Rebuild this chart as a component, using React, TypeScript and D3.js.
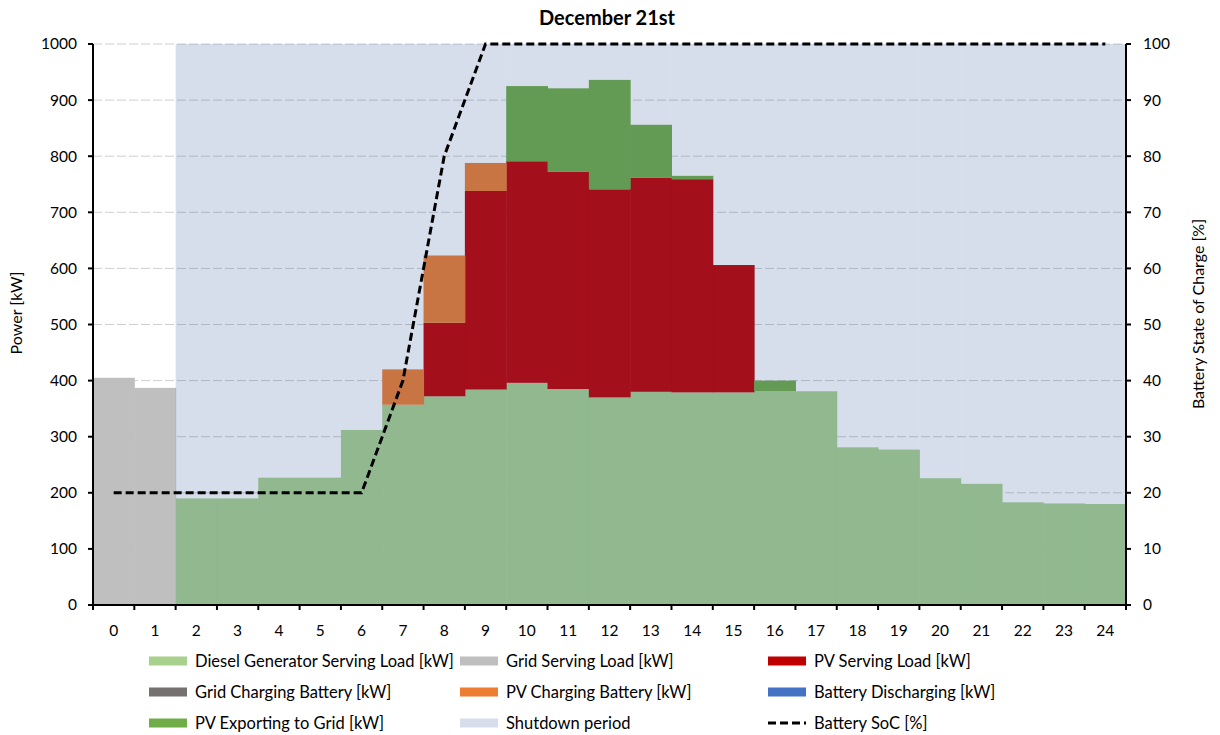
import * as d3 from "d3";

// hours of the day, 0..24
const hours = d3.range(0, 25).map(String);

// stacked series [kW]
const dieselLoad = [0, 0, 190, 190, 227, 227, 312, 357, 372, 384, 396, 385, 370, 380, 379, 379, 381, 381, 281, 277, 226, 216, 183, 181, 180];
const gridLoad = [405, 387, 0, 0, 0, 0, 0, 0, 0, 0, 0, 0, 0, 0, 0, 0, 0, 0, 0, 0, 0, 0, 0, 0, 0];
const pvLoad = [0, 0, 0, 0, 0, 0, 0, 0, 131, 354, 395, 387, 371, 382, 380, 227, 0, 0, 0, 0, 0, 0, 0, 0, 0];
const gridCharging = [0, 0, 0, 0, 0, 0, 0, 0, 0, 0, 0, 0, 0, 0, 0, 0, 0, 0, 0, 0, 0, 0, 0, 0, 0];
const pvCharging = [0, 0, 0, 0, 0, 0, 0, 63, 120, 50, 0, 0, 0, 0, 0, 0, 0, 0, 0, 0, 0, 0, 0, 0, 0];
const batteryDischarging = [0, 0, 0, 0, 0, 0, 0, 0, 0, 0, 0, 0, 0, 0, 0, 0, 0, 0, 0, 0, 0, 0, 0, 0, 0];
const pvExport = [0, 0, 0, 0, 0, 0, 0, 0, 0, 0, 134, 149, 195, 94, 6, 0, 19, 0, 0, 0, 0, 0, 0, 0, 0];
// shutdown band (drawn full height, semi-transparent)
const shutdown = [0, 0, 1000, 1000, 1000, 1000, 1000, 1000, 1000, 1000, 1000, 1000, 1000, 1000, 1000, 1000, 1000, 1000, 1000, 1000, 1000, 1000, 1000, 1000, 1000];
// battery state of charge [%]
const soc = [20, 20, 20, 20, 20, 20, 20, 40, 80, 100, 100, 100, 100, 100, 100, 100, 100, 100, 100, 100, 100, 100, 100, 100, 100];

const powerTicks = d3.range(0, 1001, 100);
const socTicks = d3.range(0, 101, 10);

const seriesNames = ["Diesel Generator Serving Load [kW]", "Grid Serving Load [kW]", "PV Serving Load [kW]", "Grid Charging Battery [kW]", "PV Charging Battery [kW]", "Battery Discharging [kW]", "PV Exporting to Grid [kW]"];
const seriesColors = ["#A9D18E", "#BFBFBF", "#C00000", "#767171", "#ED7D31", "#4472C4", "#70AD47"];
const seriesData = [dieselLoad, gridLoad, pvLoad, gridCharging, pvCharging, batteryDischarging, pvExport];

const shadeColor = "rgb(40,80,150)";
const shadeOpacity = 0.19;

const font = "Lato, 'Open Sans', sans-serif";

export default function App() {
  const width = 1220;
  const height = 735;
  const left = 93;
  const right = 1126;
  const top = 44;
  const bottom = 605;

  const x = d3.scaleBand<string>().domain(hours).range([left, right]).padding(0);
  const y = d3.scaleLinear().domain([0, 1000]).range([bottom, top]);
  const y2 = d3.scaleLinear().domain([0, 100]).range([bottom, top]);

  const table = hours.map((h, i) => {
    const row: any = { hour: h };
    seriesNames.forEach((n, k) => (row[n] = seriesData[k][i]));
    return row;
  });
  const stacked = d3.stack().keys(seriesNames)(table);

  const socLine = d3.line<number>()
    .x((d, i) => (x(hours[i]) as number) + x.bandwidth() / 2)
    .y((d) => y2(d));

  const bw = x.bandwidth();
  const boundaries = d3.range(0, hours.length + 1).map((i) => left + i * bw);

  const legend = [
    { name: seriesNames[0], color: seriesColors[0] },
    { name: seriesNames[1], color: seriesColors[1] },
    { name: seriesNames[2], color: seriesColors[2] },
    { name: seriesNames[3], color: seriesColors[3] },
    { name: seriesNames[4], color: seriesColors[4] },
    { name: seriesNames[5], color: seriesColors[5] },
    { name: seriesNames[6], color: seriesColors[6] },
    { name: "Shutdown period", color: "shade" },
    { name: "Battery SoC [%]", color: "line" },
  ];
  const legendX = [149, 460, 768];
  const legendY = [661, 692, 723];

  return (
    <svg width={width} height={height} style={{ position: "absolute", left: 0, top: 0, background: "white" }} fontFamily={font}>
      <text x={607} y={25} textAnchor="middle" fontSize={20} fontWeight="bold">December 21st</text>

      {/* gridlines */}
      {powerTicks.filter((t) => t > 0).map((t) => (
        <line key={t} x1={left} x2={right} y1={y(t)} y2={y(t)} stroke="#cfcfcf" strokeWidth={1} strokeDasharray="9,3" />
      ))}

      {/* stacked bars */}
      {stacked.map((s, k) => (
        <g key={s.key} fill={seriesColors[k]}>
          {s.map((d, i) => d[1] - d[0] > 0 ? (
            <rect key={i} x={x(hours[i])} width={bw + 0.5} y={y(d[1])} height={y(d[0]) - y(d[1])} />
          ) : null)}
        </g>
      ))}

      {/* shutdown period */}
      <g fill={shadeColor} fillOpacity={shadeOpacity}>
        {shutdown.map((v, i) => v > 0 ? (
          <rect key={i} x={x(hours[i])} width={bw + (i < hours.length - 1 ? 0.01 : 0)} y={y(v)} height={y(0) - y(v)} />
        ) : null)}
      </g>

      {/* SoC line */}
      <path d={socLine(soc) as string} fill="none" stroke="black" strokeWidth={3} strokeDasharray="8,4" />

      {/* axes */}
      <line x1={left} x2={left} y1={top} y2={bottom} stroke="black" strokeWidth={2} />
      <line x1={right} x2={right} y1={top} y2={bottom} stroke="black" strokeWidth={2} />
      <line x1={left} x2={right} y1={bottom} y2={bottom} stroke="black" strokeWidth={2} />
      {powerTicks.map((t) => (
        <g key={t}>
          <line x1={left - 5} x2={left} y1={y(t)} y2={y(t)} stroke="black" strokeWidth={2} />
          <text x={left - 16} y={y(t)} dy="0.35em" textAnchor="end" fontSize={15.5}>{t}</text>
        </g>
      ))}
      {socTicks.map((t) => (
        <g key={t}>
          <line x1={right} x2={right + 5} y1={y2(t)} y2={y2(t)} stroke="black" strokeWidth={2} />
          <text x={right + 17} y={y2(t)} dy="0.35em" textAnchor="start" fontSize={15.5}>{t}</text>
        </g>
      ))}
      {boundaries.map((b, i) => (
        <line key={i} x1={b} x2={b} y1={bottom} y2={bottom + 5} stroke="black" strokeWidth={2} />
      ))}
      {hours.map((h) => (
        <text key={h} x={(x(h) as number) + bw / 2} y={636} textAnchor="middle" fontSize={15.5}>{h}</text>
      ))}

      <text transform={`translate(22,313) rotate(-90)`} textAnchor="middle" fontSize={16}>Power [kW]</text>
      <text transform={`translate(1204,314) rotate(-90)`} textAnchor="middle" fontSize={16}>Battery State of Charge [%]</text>

      {/* legend */}
      {legend.map((l, i) => {
        const lx = legendX[i % 3];
        const ly = legendY[Math.floor(i / 3)];
        return (
          <g key={l.name}>
            {l.color === "line" ? (
              <line x1={lx} x2={lx + 38} y1={ly} y2={ly} stroke="black" strokeWidth={3} strokeDasharray="8,4" />
            ) : l.color === "shade" ? (
              <rect x={lx} y={ly - 4.5} width={38} height={9} fill={shadeColor} fillOpacity={shadeOpacity} />
            ) : (
              <rect x={lx} y={ly - 4.5} width={38} height={9} fill={l.color} />
            )}
            <text x={lx + 46} y={ly} dy="0.35em" fontSize={16.5}>{l.name}</text>
          </g>
        );
      })}
    </svg>
  );
}
